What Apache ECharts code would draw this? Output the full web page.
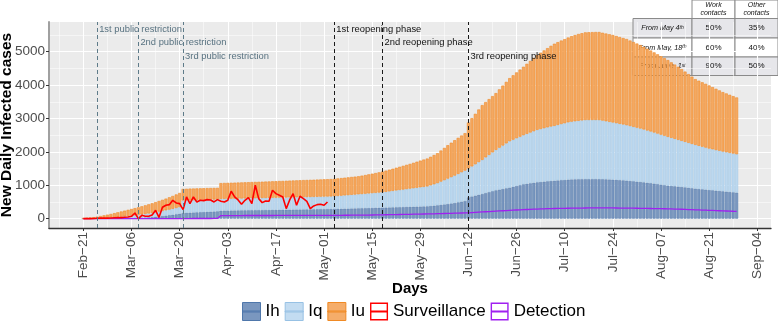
<!DOCTYPE html>
<html>
<head>
<meta charset="utf-8">
<script src="https://cdn.jsdelivr.net/npm/echarts@6/dist/echarts.min.js"></script>
<style>
html, body { margin: 0; padding: 0; background: #fff; }
#main { width: 778px; height: 322px; }
</style>
</head>
<body>
<div id="main"></div>
<script>
// day 0 = Feb 21, last bar = Aug 29 (day 190)
var ihValues = [2,3,4,5,6,7,8,9,10,11,
    12,13,14,16,18,20,22,28,34,40,
    48,58,68,80,92,105,118,132,150,170,
    175,180,185,190,195,200,205,210,215,220,
    240,242,243,245,246,248,249,251,252,254,
    255,257,258,260,261,263,264,266,267,269,
    270,272,273,275,276,278,279,281,283,285,
    287,288,290,292,295,297,300,302,305,307,
    310,313,316,319,322,325,328,330,333,336,
    339,342,345,348,352,355,358,361,364,367,
    370,380,390,400,413,426,440,455,470,490,
    510,530,640,665,690,715,740,768,796,823,
    850,870,890,910,930,955,980,1005,1030,1045,
    1060,1075,1090,1100,1110,1120,1130,1135,1145,1155,
    1160,1170,1175,1178,1181,1183,1185,1186,1186,1186,
    1185,1182,1178,1174,1170,1163,1155,1148,1140,1130,
    1120,1110,1100,1088,1075,1063,1050,1035,1020,1005,
    990,980,970,960,950,938,925,912,900,890,
    880,870,860,850,840,830,820,810,800,790,
    780];
var iqValues = [3,5,8,11,14,18,22,26,30,34,
    38,47,56,64,72,80,88,97,106,115,
    122,132,142,150,158,165,177,188,195,375,
    373,371,369,367,365,363,361,359,357,355,
    350,351,352,352,353,354,354,355,356,357,
    358,358,359,360,361,362,363,364,364,365,
    366,367,368,369,370,370,371,372,372,373,
    374,374,375,380,385,391,397,403,409,414,
    420,425,431,437,443,448,454,460,470,481,
    492,503,514,524,535,545,555,565,575,585,
    595,618,641,665,697,728,760,790,820,850,
    880,910,860,900,940,980,1020,1068,1115,1162,
    1210,1255,1300,1345,1390,1410,1430,1450,1470,1495,
    1520,1545,1570,1585,1600,1615,1630,1645,1662,1680,
    1697,1715,1730,1740,1750,1760,1770,1770,1770,1770,
    1770,1755,1740,1725,1710,1698,1685,1673,1660,1645,
    1630,1615,1600,1583,1565,1548,1530,1513,1495,1478,
    1460,1440,1420,1400,1380,1362,1345,1327,1310,1292,
    1275,1258,1240,1228,1215,1203,1190,1180,1170,1160,
    1150];
var iuValues = [5,12,18,29,40,55,70,85,100,120,
    140,155,170,185,200,215,230,245,260,275,
    290,305,320,335,350,370,385,405,425,345,
    347,349,349,349,349,349,349,349,348,347,
    475,476,477,478,479,480,482,483,484,485,
    487,488,490,491,492,494,495,497,498,500,
    503,504,506,507,509,510,512,513,515,516,
    518,519,521,522,525,527,530,532,535,537,
    540,550,560,571,582,593,605,620,635,650,
    665,680,695,710,725,740,760,780,800,818,
    835,855,875,895,930,965,1000,1030,1060,1080,
    1100,1120,1380,1445,1510,1575,1640,1655,1670,1685,
    1700,1748,1795,1842,1890,1930,1970,2010,2050,2098,
    2145,2193,2240,2284,2328,2372,2416,2460,2480,2500,
    2520,2540,2560,2580,2600,2612,2625,2628,2631,2634,
    2635,2631,2627,2624,2620,2610,2600,2590,2580,2560,
    2540,2520,2500,2475,2450,2425,2400,2375,2350,2325,
    2300,2262,2225,2188,2150,2105,2060,2015,1970,1950,
    1930,1910,1890,1862,1835,1808,1780,1760,1740,1720,
    1700];
var surveillance = [0,0,0,5,10,15,20,15,20,25,
    30,30,40,50,70,170,0,100,70,70,
    110,250,40,340,400,420,550,470,450,270,
    650,450,650,500,550,540,570,560,500,570,
    520,500,550,820,650,560,430,550,630,450,
    1000,600,480,530,520,850,750,700,650,300,
    560,750,400,670,600,520,300,380,420,430,
    400,500];
var detection = [0,0,0,0,0,0,0,0,0,0,
    0,0,0,0,0,0,0,0,0,1,
    1,1,1,1,2,2,2,2,3,3,
    3,3,4,4,4,5,5,5,6,6,
    92,92,92,93,93,93,93,94,94,94,
    94,95,95,95,95,95,96,96,96,96,
    97,97,97,97,98,98,98,98,99,99,
    99,100,100,100,101,101,102,102,103,104,
    105,106,107,108,110,111,113,115,117,119,
    121,123,125,127,129,131,133,135,137,139,
    141,143,146,149,152,155,158,161,164,167,
    170,173,176,182,188,194,200,206,212,218,
    224,230,236,242,248,254,259,264,269,274,
    279,283,287,291,295,298,301,304,306,308,
    310,312,314,316,317,318,319,320,320,321,
    321,321,321,320,320,319,318,317,316,315,
    314,312,310,308,306,304,302,300,298,296,
    293,290,287,284,281,277,273,269,265,261,
    257,253,249,245,241,237,233,229,225,222,
    220];

var tickDays = [0,14,28,42,56,70,84,98,112,126,140,154,168,182,196];
var tickLabels = ['Feb\u221221','Mar\u221206','Mar\u221220','Apr\u221203','Apr\u221217','May\u221201','May\u221215',
    'May\u221229','Jun\u221212','Jun\u221226','Jul\u221210','Jul\u221224','Aug\u221207','Aug\u221221','Sep\u221204'];
var minorDays = [-7,7,21,35,49,63,77,91,105,119,133,147,161,175,189];
var yTicks = [0,1000,2000,3000,4000,5000];
var yMinor = [500,1500,2500,3500,4500,5500];

var eventDays = [4,16,29,73,87,112];
var eventLabels = ['1st public restriction','2nd public restriction','3rd public restriction',
    '1st reopening phase','2nd reopening phase','3rd reopening phase'];

var tableHeader = ['Work\ncontacts','Other\ncontacts'];
var tableRowNames = ['From May 4','From May, 18','From June, 1'];
var tableRowSup = ['th','th','st'];
var workShare = ['50%','60%','90%'];
var otherShare = ['35%','40%','50%'];

// panel spans day -10 .. day 200
var firstDay = -10, lastDay = 200;
var dayCats = [];
for (var d = firstDay; d <= lastDay; d++) dayCats.push(String(d));

function toPairs(arr) {
    var out = [];
    for (var i = 0; i < arr.length; i++) out.push([String(i), arr[i]]);
    return out;
}
function isTick(list) {
    return function (index) { return list.indexOf(index + firstDay) >= 0; };
}

var chart = echarts.init(document.getElementById('main'));

var labelLevels = [5680, 5290, 4870];
var eventLines = [], eventMarks = [];
for (var i = 0; i < eventDays.length; i++) {
    var restr = i < 3;
    eventLines.push({xAxis: String(eventDays[i]), lineStyle: {color: restr ? '#5e7b89' : '#1a1a1a', type: [4, 3], width: 1}});
    eventMarks.push({
        coord: [String(eventDays[i]), labelLevels[i % 3]],
        label: {show: true, position: 'right', distance: 2, formatter: eventLabels[i],
            color: restr ? '#587280' : '#111', fontSize: 9.4}
    });
}

// table in the top right corner
var cols = [633, 692, 735, 778];
var rowsY = [0, 18.5, 38, 57, 75.5];
var tableFont = 'Liberation Sans, Arial, sans-serif';
var tableEls = [];
for (var c = 1; c < 3; c++) {
    tableEls.push({type: 'rect', shape: {x: cols[c], y: rowsY[0], width: cols[c + 1] - cols[c], height: rowsY[1] - rowsY[0]},
        style: {fill: '#fff', stroke: '#8a8a8a', lineWidth: 1}});
    tableEls.push({type: 'text', style: {x: (cols[c] + cols[c + 1]) / 2, y: rowsY[1] / 2, text: tableHeader[c - 1],
        align: 'center', verticalAlign: 'middle', fontSize: 7, fontStyle: 'italic', lineHeight: 8,
        fontFamily: tableFont, fill: '#111'}});
}
for (var r = 0; r < 3; r++) {
    var bg = r === 1 ? '#ffffff' : '#e6e6ea';
    var cells = [null, workShare[r], otherShare[r]];
    for (var c = 0; c < 3; c++) {
        tableEls.push({type: 'rect', shape: {x: cols[c], y: rowsY[r + 1], width: cols[c + 1] - cols[c], height: rowsY[r + 2] - rowsY[r + 1]},
            style: {fill: bg, stroke: '#8a8a8a', lineWidth: 1}});
        var cy = (rowsY[r + 1] + rowsY[r + 2]) / 2;
        if (c === 0) {
            tableEls.push({type: 'text', style: {x: (cols[0] + cols[1]) / 2, y: cy,
                text: '{a|' + tableRowNames[r] + '}{s|' + tableRowSup[r] + '}',
                align: 'center', verticalAlign: 'middle',
                rich: {a: {fontSize: 7.2, fontStyle: 'italic', fontFamily: tableFont, fill: '#111'},
                       s: {fontSize: 5, fontStyle: 'italic', verticalAlign: 'top', fontFamily: tableFont, fill: '#111'}}}});
        } else {
            tableEls.push({type: 'text', style: {x: (cols[c] + cols[c + 1]) / 2, y: cy, text: cells[c],
                align: 'center', verticalAlign: 'middle', fontSize: 8, fontFamily: tableFont, fill: '#111'}});
        }
    }
}

var barIcon = 'path://M0,0H18V18H0Z M0,8.5H18V9.5H0Z';
var lineIcon = 'path://M0,0H18V18H0Z M1.4,1.4V16.6H16.6V1.4Z M1.4,8H16.6V10H1.4Z';

var option = {
    animation: false,
    backgroundColor: '#fff',
    textStyle: {fontFamily: 'Liberation Sans, Arial, sans-serif'},
    grid: {left: 49, right: 7, top: 22, bottom: 94, show: true, backgroundColor: '#ebebeb', borderWidth: 0,
        outerBoundsMode: 'none'},
    legend: {
        top: 302, left: 242, padding: 0, itemWidth: 18, itemHeight: 18, itemGap: 5,
        textStyle: {fontSize: 17, color: '#000'},
        data: [
            {name: 'Ih', icon: barIcon, itemStyle: {color: '#7a97bf', borderColor: '#4f77ab', borderWidth: 1}},
            {name: 'Iq', icon: barIcon, itemStyle: {color: '#c3dcf1', borderColor: '#97c1e4', borderWidth: 1}},
            {name: 'Iu', icon: barIcon, itemStyle: {color: '#f5ad6a', borderColor: '#f08a24', borderWidth: 1}},
            {name: 'Surveillance', icon: lineIcon, itemStyle: {color: '#ff0000', borderWidth: 0}},
            {name: 'Detection', icon: lineIcon, itemStyle: {color: '#a020f0', borderWidth: 0}}
        ]
    },
    xAxis: [{
        type: 'category', data: dayCats, boundaryGap: false,
        axisLine: {show: true, onZero: false, lineStyle: {color: '#333', width: 1.3}},
        axisTick: {show: true, interval: isTick(tickDays), length: 3, lineStyle: {color: '#333'}},
        axisLabel: {interval: isTick(tickDays), rotate: 90, fontSize: 13.5, color: '#4d4d4d', margin: 4,
            formatter: function (v) { var k = tickDays.indexOf(Number(v)); return k < 0 ? '' : tickLabels[k]; }},
        splitLine: {show: true, interval: isTick(tickDays), lineStyle: {color: '#fff', width: 1.1}},
        name: 'Days', nameLocation: 'middle', nameGap: 53, nameMoveOverlap: false,
        nameTextStyle: {fontWeight: 'bold', fontSize: 15, color: '#000'}
    }, {
        type: 'category', data: dayCats, boundaryGap: false, position: 'top',
        axisLine: {show: false}, axisLabel: {show: false}, axisTick: {show: false},
        splitLine: {show: true, interval: isTick(minorDays), lineStyle: {color: '#fff', width: 0.5}}
    }],
    yAxis: [{
        type: 'value', min: -280, max: 5890,
        axisLine: {show: true, onZero: false, lineStyle: {color: '#a0a0a0', width: 2}},
        axisTick: {show: true, customValues: yTicks, length: 3, lineStyle: {color: '#333'}},
        axisLabel: {customValues: yTicks, fontSize: 13.5, color: '#4d4d4d', margin: 4,
            formatter: function (v) { return String(v); }},
        splitLine: {show: true, lineStyle: {color: '#fff', width: 1.1}},
        name: 'New Daily Infected cases', nameLocation: 'middle', nameGap: 34, nameMoveOverlap: false,
        nameTextStyle: {fontWeight: 'bold', fontSize: 15.5, color: '#000'}
    }, {
        type: 'value', min: -280, max: 5890, position: 'right',
        axisLine: {show: false}, axisLabel: {show: false},
        axisTick: {show: false, customValues: yMinor},
        splitLine: {show: true, lineStyle: {color: '#fff', width: 0.5}}
    }],
    series: [{
        name: 'Ih', type: 'bar', stack: 'cases', barWidth: 3, data: toPairs(ihValues),
        itemStyle: {color: '#7a97bf', borderColor: '#5a80b0', borderWidth: 0.6}
    }, {
        name: 'Iq', type: 'bar', stack: 'cases', barWidth: 3, data: toPairs(iqValues),
        itemStyle: {color: '#bcd8ef', borderColor: '#a5c9e7', borderWidth: 0.6}
    }, {
        name: 'Iu', type: 'bar', stack: 'cases', barWidth: 3, data: toPairs(iuValues),
        itemStyle: {color: '#f5a860', borderColor: '#f08b2a', borderWidth: 0.6}
    }, {
        name: 'Detection', type: 'line', data: toPairs(detection), showSymbol: false,
        lineStyle: {color: '#a020f0', width: 1.3}, itemStyle: {color: '#a020f0'},
        markLine: {silent: true, symbol: ['none', 'none'], label: {show: false}, data: eventLines},
        markPoint: {silent: true, symbol: 'circle', symbolSize: 0, itemStyle: {color: 'transparent'}, data: eventMarks}
    }, {
        name: 'Surveillance', type: 'line', data: toPairs(surveillance), showSymbol: false,
        lineStyle: {color: '#ff0000', width: 1.6}, itemStyle: {color: '#ff0000'}
    }],
    graphic: [{type: 'group', z: 100, children: tableEls}]
};

chart.setOption(option);
window.addEventListener('resize', chart.resize);
</script>
</body>
</html>
